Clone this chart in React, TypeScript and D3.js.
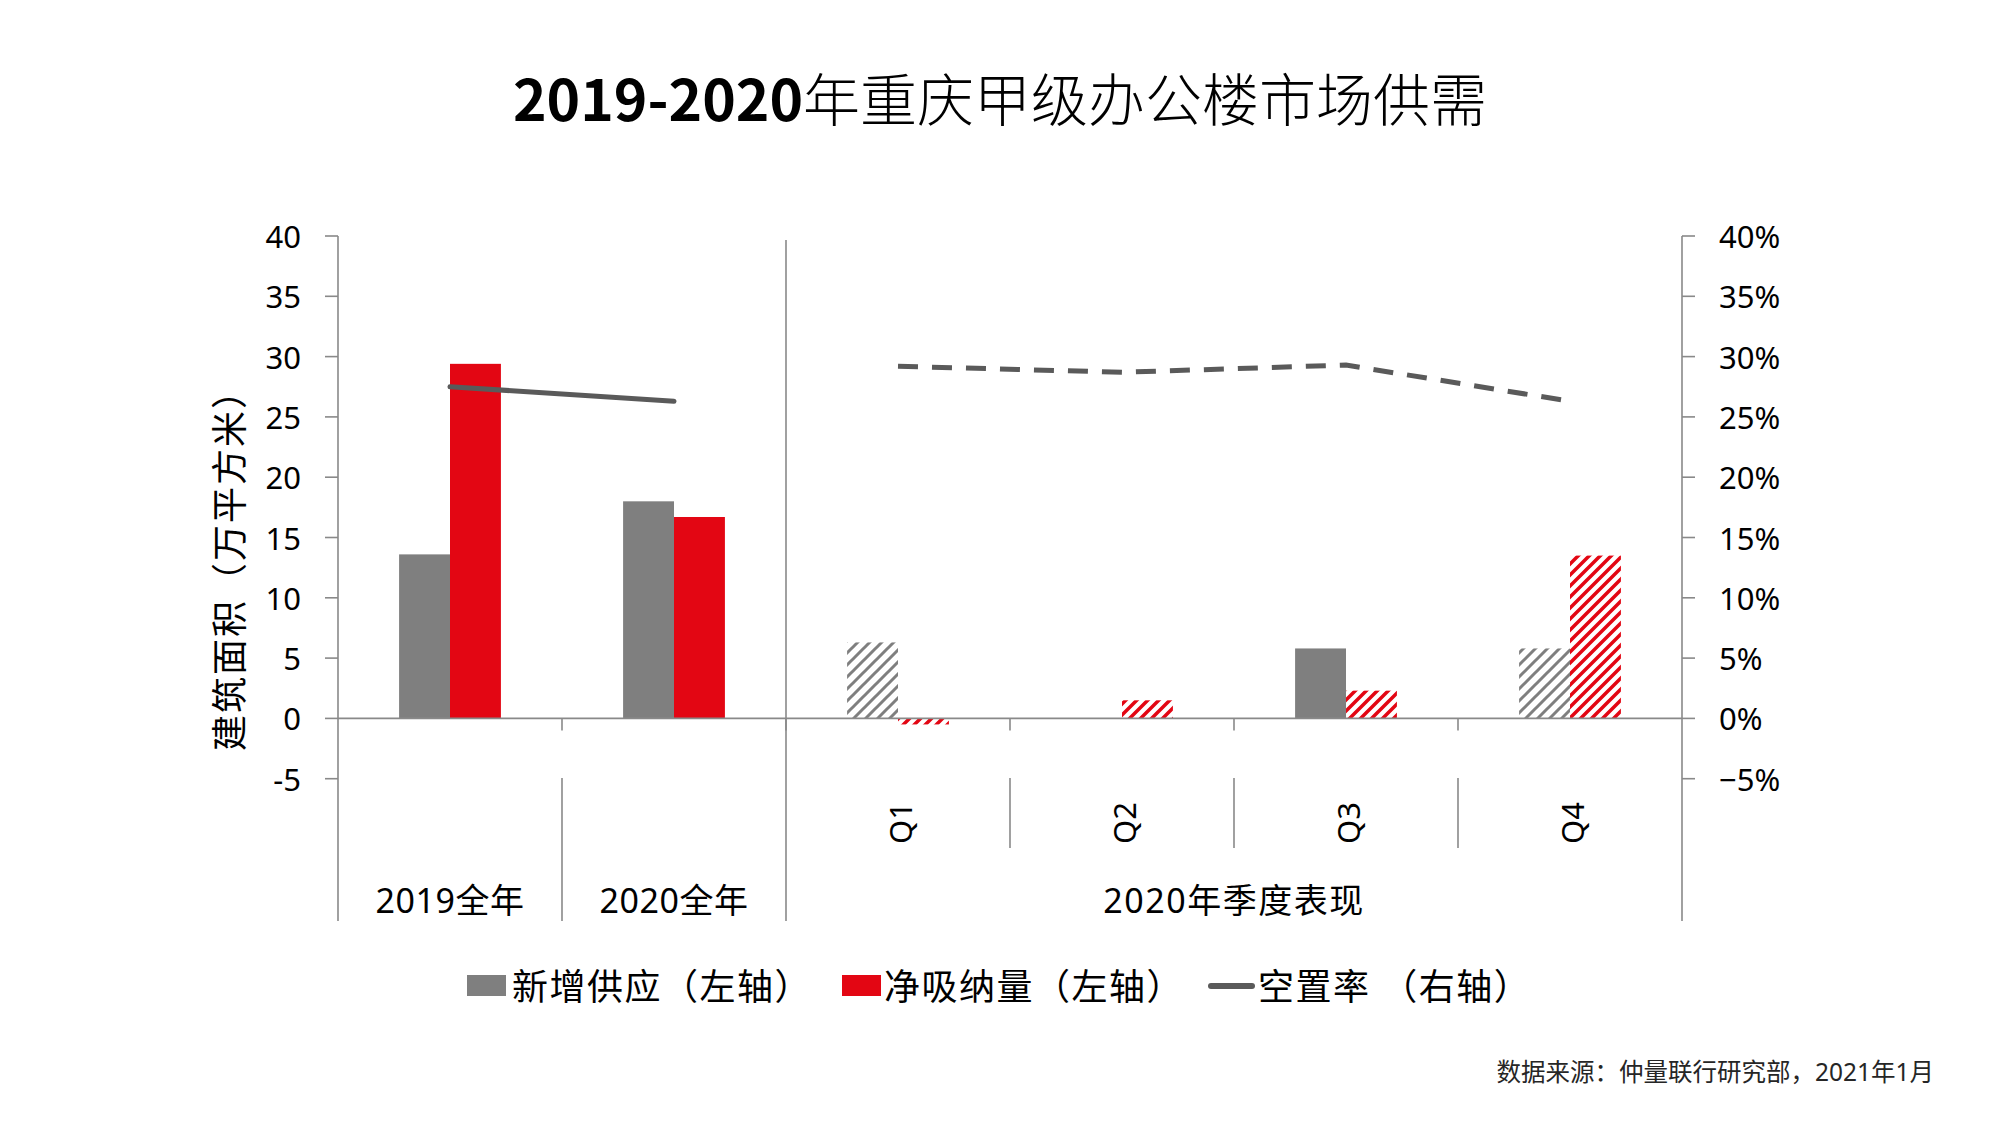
import React from "react";
import * as d3 from "d3";

const categories = ["2019全年", "2020全年", "Q1", "Q2", "Q3", "Q4"];
const newSupply = [13.6, 18.0, 6.3, 0, 5.8, 5.8];
const netAbsorption = [29.4, 16.7, -0.5, 1.5, 2.3, 13.5];
const vacancy = [0.275, 0.263, 0.292, 0.287, 0.293, 0.263];
const supplyHatched = [false, false, true, false, false, true];
const absorptionHatched = [false, false, true, true, true, true];
const leftTicks = [-5, 0, 5, 10, 15, 20, 25, 30, 35, 40];
const rightTicks = [-0.05, 0, 0.05, 0.1, 0.15, 0.2, 0.25, 0.3, 0.35, 0.4];
const groupLabels = ["2019全年", "2020全年", "2020年季度表现"];
const legendLabels = ["新增供应（左轴）", "净吸纳量（左轴）", "空置率 （右轴）"];
const titleNum = "2019-2020";
const titleText = "年重庆甲级办公楼市场供需";
const yTitle = "建筑面积（万平方米）";
const source = "数据来源：仲量联行研究部，2021年1月";

const GRAY = "#7f7f7f";
const RED = "#e30613";
const LINE = "#5a5a5a";
const AXIS = "#898989";
const FONT = "'Noto Sans', 'Noto Sans CJK SC', sans-serif";

export default function App() {
  const W = 2000, H = 1125;
  const x = d3.scaleBand<string>().domain(categories).range([338, 1682]).paddingInner(0).paddingOuter(0);
  const bw = x.bandwidth();
  const x1 = d3.scaleBand<string>().domain(["s", "a"]).range([0, bw]).paddingInner(0).paddingOuter(1.2);
  const y = d3.scaleLinear().domain([-5, 40]).range([778.7, 236]);
  const yR = d3.scaleLinear().domain([-0.05, 0.4]).range([778.7, 236]);
  const fmtPct = d3.format(".0%");
  const y0 = y(0);
  const bottom = 921;
  const cx = (i: number) => (x(categories[i]) as number) + bw / 2;

  const solidLine = d3.line<number>().x((_, i) => cx(i)).y((d) => yR(d));
  const dashedLine = d3.line<number>().x((_, i) => cx(i + 2)).y((d) => yR(d));

  const boundaries = categories.slice(1).map((c) => x(c) as number);
  const sep = x("Q1") as number;

  return (
    <svg width={W} height={H} style={{ position: "absolute", left: 0, top: 0, background: "#fff" }} fontFamily={FONT}>
      <defs>
        <pattern id="hg" patternUnits="userSpaceOnUse" width={12} height={12}>
          <path d="M-3,3 L3,-3 M0,12 L12,0 M9,15 L15,9" stroke={GRAY} strokeWidth={3} />
        </pattern>
        <pattern id="hr" patternUnits="userSpaceOnUse" width={11} height={11}>
          <path d="M-3,3 L3,-3 M0,11 L11,0 M8,14 L14,8" stroke={RED} strokeWidth={3.5} />
        </pattern>
      </defs>
      <rect width={W} height={H} fill="#fff" />

      {/* Title */}
      <text x={1000} y={96} textAnchor="middle" dominantBaseline="central" fontSize={57} fill="#000">
        <tspan fontWeight="bold" fontFamily="'Noto Sans CJK SC', sans-serif">{titleNum}</tspan>
        <tspan fontWeight={300} fontFamily="'Noto Sans CJK SC', sans-serif">{titleText}</tspan>
      </text>

      {/* Bars */}
      {categories.map((c, i) => {
        const bx = x(c) as number;
        const sv = newSupply[i];
        const av = netAbsorption[i];
        return (
          <g key={c}>
            {sv !== 0 && (
              <rect x={bx + (x1("s") as number)} y={Math.min(y(sv), y0)} width={x1.bandwidth()}
                height={Math.abs(y(sv) - y0)} fill={supplyHatched[i] ? "url(#hg)" : GRAY} />
            )}
            {av !== 0 && (
              <rect x={bx + (x1("a") as number)} y={Math.min(y(av), y0)} width={x1.bandwidth()}
                height={Math.abs(y(av) - y0)} fill={absorptionHatched[i] ? "url(#hr)" : RED} />
            )}
          </g>
        );
      })}

      {/* Axes */}
      <g stroke={AXIS} strokeWidth={1.6} fill="none">
        <line x1={338} x2={338} y1={y(40)} y2={bottom} />
        <line x1={1682} x2={1682} y1={y(40)} y2={bottom} />
        <line x1={338} x2={1682} y1={y0} y2={y0} />
        <line x1={sep} x2={sep} y1={240} y2={bottom} />
        {leftTicks.map((t) => (
          <line key={"lt" + t} x1={325} x2={338} y1={y(t)} y2={y(t)} />
        ))}
        {rightTicks.map((t) => (
          <line key={"rt" + t} x1={1682} x2={1695} y1={yR(t)} y2={yR(t)} />
        ))}
        {boundaries.map((b) => (
          <line key={"bt" + b} x1={b} x2={b} y1={y0} y2={y0 + 12} />
        ))}
        {boundaries.filter((b) => b > sep).map((b) => (
          <line key={"bd" + b} x1={b} x2={b} y1={778} y2={848} />
        ))}
        <line x1={boundaries[0]} x2={boundaries[0]} y1={778} y2={bottom} />
      </g>

      {/* Vacancy lines */}
      <path d={solidLine(vacancy.slice(0, 2)) as string} fill="none" stroke={LINE} strokeWidth={5} strokeLinecap="round" />
      <path d={dashedLine(vacancy.slice(2)) as string} fill="none" stroke={LINE} strokeWidth={5} strokeDasharray="20 14" />

      {/* Tick labels */}
      {leftTicks.map((t) => (
        <text key={"ll" + t} x={301} y={y(t)} textAnchor="end" dominantBaseline="central" fontSize={31} fill="#000">{t}</text>
      ))}
      {rightTicks.map((t) => (
        <text key={"rl" + t} x={1719} y={yR(t)} textAnchor="start" dominantBaseline="central" fontSize={31} fill="#000">{fmtPct(t)}</text>
      ))}

      {/* Quarter labels */}
      {categories.slice(2).map((c, i) => (
        <text key={c} transform={`translate(${cx(i + 2) + 2},823) rotate(-90)`} textAnchor="middle" dominantBaseline="central" fontSize={31} fill="#000">{c}</text>
      ))}

      {/* Group labels */}
      <text x={cx(0)} y={900} textAnchor="middle" dominantBaseline="central" fontSize={34} letterSpacing={0.5} fill="#000">{groupLabels[0]}</text>
      <text x={cx(1)} y={900} textAnchor="middle" dominantBaseline="central" fontSize={34} letterSpacing={0.5} fill="#000">{groupLabels[1]}</text>
      <text x={(sep + 1682) / 2} y={900} textAnchor="middle" dominantBaseline="central" fontSize={34} letterSpacing={1.5} fill="#000">{groupLabels[2]}</text>

      {/* Y title */}
      <text transform="translate(229,561) rotate(-90)" textAnchor="middle" dominantBaseline="central" fontSize={36} letterSpacing={2} fill="#000">{yTitle}</text>

      {/* Legend */}
      <rect x={467} y={975} width={39} height={21} fill={GRAY} />
      <text x={512} y={986} dominantBaseline="central" fontSize={36} letterSpacing={1.5} fill="#000">{legendLabels[0]}</text>
      <rect x={842} y={975} width={39} height={21} fill={RED} />
      <text x={884} y={986} dominantBaseline="central" fontSize={36} letterSpacing={1.5} fill="#000">{legendLabels[1]}</text>
      <line x1={1211} x2={1252} y1={986} y2={986} stroke={LINE} strokeWidth={6} strokeLinecap="round" />
      <text x={1258} y={986} dominantBaseline="central" fontSize={36} letterSpacing={1.5} fill="#000">{legendLabels[2]}</text>

      {/* Source */}
      <text x={1934} y={1071} textAnchor="end" dominantBaseline="central" fontSize={24.5} fill="#262626">{source}</text>
    </svg>
  );
}
